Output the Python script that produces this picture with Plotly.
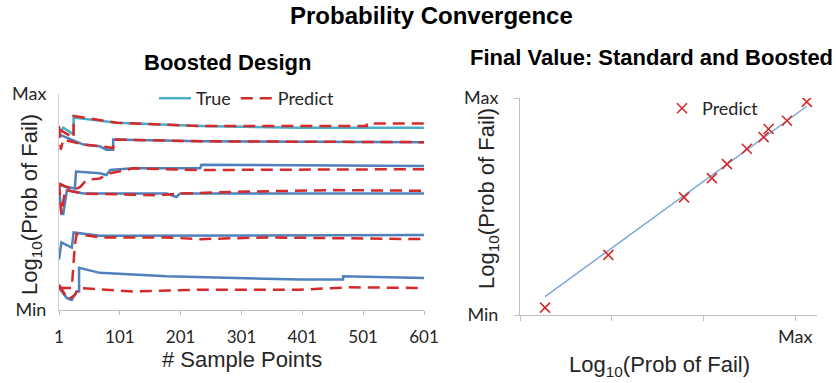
import plotly.graph_objects as go

# ---------------- Left panel data (sample index, normalized log10 prob 0=Min..100=Max)
true1_x = [1, 8, 25, 25, 96, 233, 397, 601]
true1_y = [81.3, 84.4, 81.3, 89.1, 86.7, 85.2, 84.4, 84.4]
pred1_x = [1, 25, 25, 96, 233, 397, 507, 507, 601]
pred1_y = [83.6, 79.7, 89.8, 86.7, 85.2, 85.2, 85.2, 86.4, 86.4]

true2_x = [1, 41, 68, 79, 90, 90, 233, 601]
true2_y = [81.3, 76.6, 75.8, 74.2, 74.2, 78.9, 78.1, 77.7]
pred2_x = [1, 4, 8, 41, 68, 85, 90, 90, 233, 601]
pred2_y = [85.2, 74.2, 78.9, 76.6, 75.8, 75.0, 75.0, 78.9, 78.1, 77.7]

true3_x = [1, 27, 29, 68, 79, 85, 123, 233, 235, 601]
true3_y = [57.8, 56.3, 64.1, 63.3, 62.5, 64.8, 65.6, 65.6, 67.2, 66.7]
pred3_x = [1, 25, 36, 46, 68, 85, 123, 233, 601]
pred3_y = [58.6, 55.5, 57.0, 60.2, 60.9, 63.3, 65.6, 64.8, 65.2]

true4_x = [1, 5, 8, 14, 41, 178, 194, 200, 601]
true4_y = [57.0, 44.5, 44.5, 55.5, 53.9, 53.9, 52.3, 53.9, 53.9]
pred4_x = [1, 5, 11, 41, 167, 200, 288, 452, 601]
pred4_y = [58.6, 44.5, 55.5, 53.9, 53.1, 53.9, 54.7, 55.5, 55.2]

true5_x = [1, 5, 22, 25, 68, 233, 601]
true5_y = [23.4, 31.3, 28.9, 35.9, 34.4, 34.4, 34.7]
pred5_x = [1, 22, 27, 30, 68, 178, 233, 342, 601]
pred5_y = [10.2, 10.2, 30.0, 35.2, 33.6, 33.6, 32.8, 33.6, 32.8]

true6_x = [1, 14, 22, 30, 34, 34, 68, 178, 397, 468, 468, 601]
true6_y = [10.2, 5.5, 4.7, 8.6, 8.6, 19.5, 17.2, 15.6, 14.1, 14.1, 15.6, 14.8]
pred6_x = [1, 16, 27, 34, 123, 233, 397, 479, 601]
pred6_y = [11.7, 4.7, 7.0, 10.2, 8.6, 9.4, 9.4, 10.5, 10.2]

x_tick_vals = [1, 101, 201, 301, 401, 501, 601]
x_tick_text = ["1", "101", "201", "301", "401", "501", "601"]

# ---------------- Right panel data (normalized 0=Min..1=Max)
fit_x = [0.091, 1.042]
fit_y = [0.085, 0.962]
pts_x = [0.091, 0.321, 0.596, 0.697, 0.752, 0.824, 0.885, 0.903, 0.970, 1.042]
pts_y = [0.034, 0.277, 0.542, 0.631, 0.695, 0.766, 0.820, 0.857, 0.895, 0.982]

CYAN = "#4BACC6"
BLUE = "#4F81BD"
RED = "#D42A2A"
GRID = "#BFBFBF"
TXT = "#262626"

fig = go.Figure()

trues = [(true1_x, true1_y), (true2_x, true2_y), (true3_x, true3_y),
         (true4_x, true4_y), (true5_x, true5_y), (true6_x, true6_y)]
preds = [(pred1_x, pred1_y), (pred2_x, pred2_y), (pred3_x, pred3_y),
         (pred4_x, pred4_y), (pred5_x, pred5_y), (pred6_x, pred6_y)]

for i, (tx, ty) in enumerate(trues):
    fig.add_trace(go.Scatter(
        x=tx, y=ty, mode="lines", name="True",
        line=dict(color=CYAN if i == 0 else BLUE, width=2.5),
        showlegend=(i == 0), legend="legend", xaxis="x", yaxis="y"))
for i, (px, py) in enumerate(preds):
    fig.add_trace(go.Scatter(
        x=px, y=py, mode="lines", name="Predict",
        line=dict(color=RED, width=2.5, dash="12px,7px"),
        showlegend=(i == 0), legend="legend", xaxis="x", yaxis="y"))

fig.add_trace(go.Scatter(
    x=fit_x, y=fit_y, mode="lines", line=dict(color="#7FA7D9", width=1.5),
    showlegend=False, xaxis="x2", yaxis="y2"))
fig.add_trace(go.Scatter(
    x=pts_x, y=pts_y, mode="markers", name="Predict",
    marker=dict(symbol="x-thin", size=10, line=dict(color=RED, width=1.6), color=RED),
    showlegend=True, legend="legend2", xaxis="x2", yaxis="y2"))

W, H = 836, 383
def fx(p): return p / W
def fy(p): return 1 - p / H

SANS = "Liberation Sans, Arial, sans-serif"
CAL = "Lato, Liberation Sans, sans-serif"
axis_font = dict(family=SANS, size=22, color=TXT)
tick_font = dict(family=CAL, size=17, color=TXT)
mm_font = dict(family=CAL, size=18, color=TXT)

fig.update_layout(
    width=W, height=H,
    margin=dict(l=0, r=0, t=0, b=0, pad=0, autoexpand=False),
    paper_bgcolor="white", plot_bgcolor="white",
    xaxis=dict(domain=[fx(59), fx(424)], range=[1, 601], tickvals=x_tick_vals,
               ticktext=x_tick_text, showline=True, linecolor=GRID, linewidth=1,
               ticks="outside", tickcolor=GRID, ticklen=4, ticklabelstandoff=8,
               showgrid=False, zeroline=False, tickfont=tick_font, anchor="y",
               automargin=False),
    yaxis=dict(domain=[fy(310), fy(94)], range=[0, 100], tickvals=[0, 100],
               ticktext=["Min", "Max"], showline=True, linecolor="#D0D0D0", linewidth=1,
               ticks="", ticklabelstandoff=8, showgrid=False, zeroline=False,
               tickfont=mm_font, anchor="x", automargin=False),
    xaxis2=dict(domain=[fx(520), fx(817)], range=[0, 1.079], tickvals=[0, 1/3, 2/3, 1],
                ticktext=["", "", "", "Max"], showline=True, linecolor=GRID, linewidth=1,
                ticks="outside", tickcolor=GRID, ticklen=5, showgrid=False,
                zeroline=False, tickfont=mm_font, anchor="y2", automargin=False),
    yaxis2=dict(domain=[fy(315), fy(98)], range=[0, 1], tickvals=[0, 1],
                ticktext=["Min", "Max"], showline=True, linecolor=GRID, linewidth=1,
                ticks="outside", tickcolor=GRID, ticklen=5, ticklabelstandoff=12,
                showgrid=False, zeroline=False, tickfont=mm_font, anchor="x2",
                automargin=False),
    legend=dict(orientation="h", x=fx(154), y=fy(80), xanchor="left", yanchor="top",
                bgcolor="rgba(0,0,0,0)",
                font=dict(family=CAL, size=18, color=TXT),
                itemwidth=32, tracegroupgap=0),
    legend2=dict(x=fx(662), y=fy(90), xanchor="left", yanchor="top",
                 bgcolor="rgba(0,0,0,0)",
                 font=dict(family=CAL, size=18, color=TXT)),
    annotations=[
        dict(text="<b>Probability Convergence</b>", x=fx(431), y=fy(16), xref="paper",
             yref="paper", showarrow=False, xanchor="center", yanchor="middle",
             font=dict(family=SANS, size=24, color="black")),
        dict(text="<b>Boosted Design</b>", x=fx(227), y=fy(62), xref="paper",
             yref="paper", showarrow=False, xanchor="center", yanchor="middle",
             font=dict(family=SANS, size=22, color="black")),
        dict(text="<b>Final Value: Standard and Boosted</b>", x=fx(651), y=fy(58),
             xref="paper", yref="paper", showarrow=False, xanchor="center", yanchor="middle",
             font=dict(family=SANS, size=22, color="black")),
        dict(text="Log<sub>10</sub>(Prob of Fail)", x=fx(31), y=fy(205), xref="paper",
             yref="paper", showarrow=False, textangle=-90, xanchor="center",
             yanchor="middle", font=axis_font),
        dict(text="Log<sub>10</sub>(Prob of Fail)", x=fx(488), y=fy(199), xref="paper",
             yref="paper", showarrow=False, textangle=-90, xanchor="center",
             yanchor="middle", font=axis_font),
        dict(text="# Sample Points", x=fx(242), y=fy(359), xref="paper", yref="paper",
             showarrow=False, xanchor="center", yanchor="middle", font=axis_font),
        dict(text="Log<sub>10</sub>(Prob of Fail)", x=fx(659), y=fy(366), xref="paper",
             yref="paper", showarrow=False, xanchor="center", yanchor="middle",
             font=axis_font),
    ],
)

fig.write_html("out.html")
